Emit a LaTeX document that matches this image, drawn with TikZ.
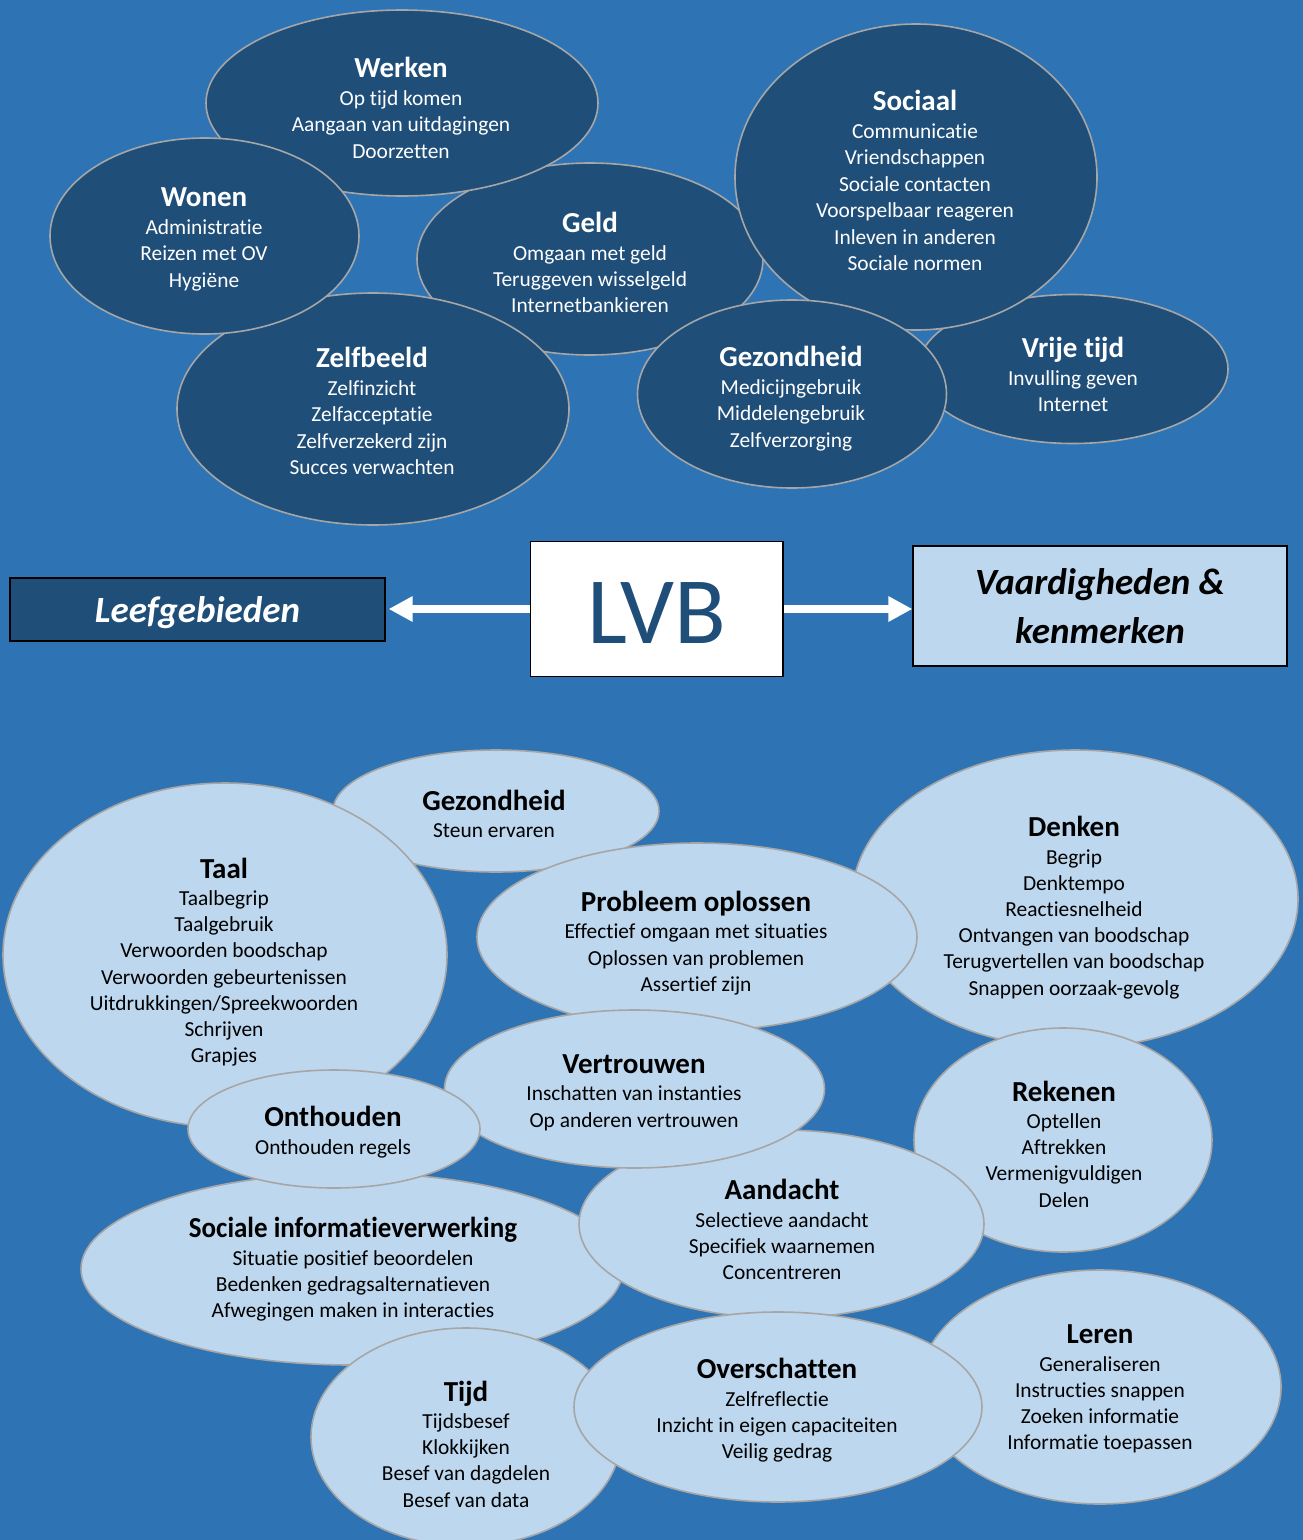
\documentclass[tikz,border=0pt]{standalone}
\usepackage{fontspec}
\setmainfont{Carlito}[Ligatures=NoCommon]
\usetikzlibrary{arrows.meta,shapes.geometric}
\definecolor{bg}{HTML}{2E74B5}
\definecolor{darkb}{HTML}{1F4E79}
\definecolor{lightb}{HTML}{BDD7EE}
\definecolor{rim}{HTML}{A6A6A6}
\newcommand\ttl[1]{{\fontsize{29}{30}\selectfont\bfseries #1}\\[1.3pt]}
\tikzset{
  ell/.style={ellipse, draw=rim, line width=1.6pt, inner sep=0pt, outer sep=0pt},
  topell/.style={ell, fill=darkb},
  botell/.style={ell, fill=lightb},
  toptxt/.style={text=white, align=center, inner sep=0pt, font=\fontsize{21.4}{26.4}\selectfont},
  bottxt/.style={text=black, align=center, inner sep=0pt, font=\fontsize{21.4}{26.2}\selectfont},
  box/.style={rectangle, draw=black, line width=1.2pt, inner sep=0pt},
  arr/.style={draw=white, line width=8pt, -{Triangle[length=24pt,width=24pt]}},
}
\begin{document}
\begin{tikzpicture}[x=1pt,y=-1pt]
\useasboundingbox (0,0) rectangle (1303,1540);
\fill[bg] (0,0) rectangle (1303,1540);

% ---------- top: Leefgebieden ----------
\node[topell, minimum width=346pt, minimum height=192pt] (geld) at (590,259) {};
\node[toptxt] (geldT) at (590,262.5) {\ttl{Geld}Omgaan met geld\\Teruggeven wisselgeld\\Internetbankieren};

\node[topell, minimum width=310pt, minimum height=149pt] (vrije) at (1073,369) {};
\node[toptxt] (vrijeT) at (1073,374.5) {\ttl{Vrije tijd}Invulling geven\\Internet};

\node[topell, minimum width=362pt, minimum height=306pt] (sociaal) at (916,177) {};
\node[toptxt] (sociaalT) at (915,180.5) {\ttl{Sociaal}Communicatie\\Vriendschappen\\Sociale contacten\\Voorspelbaar reageren\\Inleven in anderen\\Sociale normen};

\node[topell, minimum width=309pt, minimum height=188pt] (gezT) at (792,394) {};
\node[toptxt] (gezTT) at (791,398.5) {\ttl{Gezondheid}Medicijngebruik\\Middelengebruik\\Zelfverzorging};

\node[topell, minimum width=392pt, minimum height=232pt] (zelf) at (373,409) {};
\node[toptxt] (zelfT) at (372,411) {\ttl{Zelfbeeld}Zelfinzicht\\Zelfacceptatie\\Zelfverzekerd zijn\\Succes verwachten};

\node[topell, minimum width=392pt, minimum height=186pt] (werken) at (402,103) {};
\node[toptxt] (werkenT) at (401,108) {\ttl{Werken}Op tijd komen\\Aangaan van uitdagingen\\Doorzetten};

\node[topell, minimum width=309pt, minimum height=196pt] (wonen) at (204.5,236) {};
\node[toptxt] (wonenT) at (204,239.5) {\ttl{Wonen}Administratie\\Reizen met OV\\Hygiëne};

% ---------- middle row ----------
\node[box, fill=darkb, minimum width=375pt, minimum height=63pt, text=white,
      font=\fontsize{37}{42}\selectfont\bfseries\itshape, text height=25pt, text depth=0pt]
      (leef) at (197.5,609.5) {Leefgebieden};
\node[box, fill=white, minimum width=252.5pt, minimum height=134.5pt, text=darkb,
      font=\fontsize{95}{100}\selectfont, text height=69pt, text depth=0pt]
      (lvb) at (656.75,609) {LVB};
\node[box, fill=lightb, minimum width=374pt, minimum height=120pt, text=black, align=center,
      font=\fontsize{37}{49}\selectfont\bfseries\itshape]
      (vaard) at (1100,606) {Vaardigheden \&\\kenmerken};
\draw[arr, shorten >=3pt] (lvb.west) -- (lvb.west -| leef.east);
\draw[arr] (lvb.east) -- (lvb.east -| vaard.west);

% ---------- bottom: Vaardigheden ----------
\node[botell, minimum width=326pt, minimum height=122pt] (gezB) at (496,811) {};
\node[bottxt] (gezBT) at (494,814) {\ttl{Gezondheid}Steun ervaren};

\node[botell, minimum width=446pt, minimum height=298pt] (denken) at (1075,899) {};
\node[bottxt] (denkenT) at (1074,907.5) {\ttl{Denken}Begrip\\Denktempo\\Reactiesnelheid\\Ontvangen van boodschap\\Terugvertellen van boodschap\\Snappen oorzaak-gevolg};

\node[botell, minimum width=444pt, minimum height=344pt] (taal) at (225,955) {};
\node[bottxt] (taalT) at (224,962) {\ttl{Taal}Taalbegrip\\Taalgebruik\\Verwoorden boodschap\\Verwoorden gebeurtenissen\\Uitdrukkingen/Spreekwoorden\\Schrijven\\Grapjes};

\node[botell, minimum width=440pt, minimum height=188pt] (probleem) at (697,937) {};
\node[bottxt] (probleemT) at (696,943) {\ttl{Probleem oplossen}Effectief omgaan met situaties\\Oplossen van problemen\\Assertief zijn};

\node[botell, minimum width=298pt, minimum height=224pt] (rekenen) at (1063,1140) {};
\node[bottxt] (rekenenT) at (1064,1144) {\ttl{Rekenen}Optellen\\Aftrekken\\Vermenigvuldigen\\Delen};

\node[botell, minimum width=542pt, minimum height=192pt] (socinfo) at (352,1269) {};
\node[bottxt] (socinfoT) at (353,1269.5) {\ttl{\scalebox{0.93}[1]{Sociale informatieverwerking}}Situatie positief beoordelen\\Bedenken gedragsalternatieven\\Afwegingen maken in interacties};

\node[botell, minimum width=405pt, minimum height=188pt] (aandacht) at (781.5,1224) {};
\node[bottxt] (aandachtT) at (782,1229.5) {\ttl{Aandacht}Selectieve aandacht\\Specifiek waarnemen\\Concentreren};

\node[botell, minimum width=380pt, minimum height=158pt] (vertrouwen) at (634.5,1089) {};
\node[bottxt] (vertrouwenT) at (634,1092.5) {\ttl{Vertrouwen}Inschatten van instanties\\Op anderen vertrouwen};

\node[botell, minimum width=292pt, minimum height=118pt] (onthouden) at (334,1129) {};
\node[bottxt] (onthoudenT) at (333,1132) {\ttl{Onthouden}Onthouden regels};

\node[botell, minimum width=310pt, minimum height=218pt] (tijd) at (466,1437) {};
\node[bottxt] (tijdT) at (466,1444) {\ttl{Tijd}Tijdsbesef\\Klokkijken\\Besef van dagdelen\\Besef van data};

\node[botell, minimum width=362pt, minimum height=234pt] (leren) at (1100,1387) {};
\node[bottxt] (lerenT) at (1100,1389) {\ttl{Leren}Generaliseren\\Instructies snappen\\Zoeken informatie\\Informatie toepassen};

\node[botell, minimum width=408pt, minimum height=190pt] (overschatten) at (778,1407) {};
\node[bottxt] (overschattenT) at (777,1410.5) {\ttl{Overschatten}Zelfreflectie\\Inzicht in eigen capaciteiten\\Veilig gedrag};
\end{tikzpicture}
\end{document}
